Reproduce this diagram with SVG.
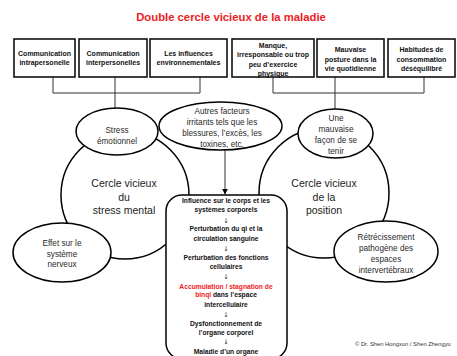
<svg xmlns="http://www.w3.org/2000/svg" width="457" height="356" viewBox="0 0 457 356">
<defs>
<marker id="arr" viewBox="0 0 10 10" refX="9" refY="5" markerWidth="6" markerHeight="6" orient="auto" markerUnits="userSpaceOnUse">
<path d="M0,0 L10,5 L0,10 z" fill="#000"/>
</marker>
<style>
text{font-family:"Liberation Sans",Arial,sans-serif;text-anchor:middle;fill:#111}
.title{font-size:11.3px;font-weight:bold;fill:#ee1c24}
.box{fill:#fff;stroke:#111;stroke-width:1.6}
.bt{font-size:7px;font-weight:bold}
.ell{fill:#fff;stroke:#000;stroke-width:1.5}
.et{font-size:8.2px;fill:#2a2a2a}
.cyc{fill:none;stroke:#000;stroke-width:1.5}
.ct{font-size:10.5px;fill:#222}
.ln{fill:none;stroke:#333;stroke-width:1}
.mt{font-size:6.7px;font-weight:bold}
.red{fill:#ee1c24}
.ar{font-family:"DejaVu Sans",sans-serif;font-size:6.5px;fill:#111}
.copy{font-size:5.8px;text-anchor:start;fill:#333}
</style>
</defs>
<rect width="457" height="356" fill="#fff"/>
<text class="title" x="231" y="21">Double cercle vicieux de la maladie</text>

<g id="cycle-stress">
<circle class="cyc" cx="125" cy="195" r="64"/>
<text class="ct" x="124" y="187">Cercle vicieux</text>
<text class="ct" x="124" y="200.5">du</text>
<text class="ct" x="124" y="214">stress mental</text>
</g>
<g id="cycle-position">
<circle class="cyc" cx="324" cy="193" r="65"/>
<text class="ct" x="324" y="187">Cercle vicieux</text>
<text class="ct" x="324" y="200.5">de la</text>
<text class="ct" x="324" y="214">position</text>
</g>

<g id="connectors">
<path class="ln" d="M53,77 V93 H200 V77"/>
<path class="ln" d="M115,77 V108"/>
<path class="ln" d="M273,77 V93 H424 V77"/>
<path class="ln" d="M335,77 V109"/>
<path class="ln" d="M225,150 V194" marker-end="url(#arr)"/>
</g>

<g id="box-intrapersonelle">
<rect class="box" x="14" y="39" width="61" height="38"/>
<text class="bt" x="44.5" y="55.5">Communication</text>
<text class="bt" x="44.5" y="65">intrapersonelle</text>
</g>
<g id="box-interpersonelles">
<rect class="box" x="79" y="39" width="68" height="38"/>
<text class="bt" x="113" y="55.5">Communication</text>
<text class="bt" x="113" y="65">interpersonelles</text>
</g>
<g id="box-environnement">
<rect class="box" x="150" y="39" width="77" height="38"/>
<text class="bt" x="188.5" y="55.5">Les influences</text>
<text class="bt" x="188.5" y="65">environnementales</text>
</g>
<g id="box-exercice">
<rect class="box" x="232" y="39" width="82" height="38"/>
<text class="bt" x="273" y="47.5">Manque,</text>
<text class="bt" x="273" y="57">irresponsable ou trop</text>
<text class="bt" x="273" y="66.5">peu d’exercice</text>
<text class="bt" x="273" y="76">physique</text>
</g>
<g id="box-posture">
<rect class="box" x="317" y="39" width="67" height="38"/>
<text class="bt" x="350.5" y="52">Mauvaise</text>
<text class="bt" x="350.5" y="61.5">posture dans la</text>
<text class="bt" x="350.5" y="71">vie quotidienne</text>
</g>
<g id="box-consommation">
<rect class="box" x="388" y="39" width="67" height="38"/>
<text class="bt" x="421.5" y="52">Habitudes de</text>
<text class="bt" x="421.5" y="61.5">consommation</text>
<text class="bt" x="421.5" y="71">déséquilibré</text>
</g>

<g id="ell-stress">
<ellipse class="ell" cx="117" cy="131.5" rx="41" ry="23.5"/>
<text class="et" x="117" y="133">Stress</text>
<text class="et" x="117" y="144">émotionnel</text>
</g>
<g id="ell-autres">
<ellipse class="ell" cx="220.5" cy="126" rx="61.5" ry="24"/>
<text class="et" x="222" y="113.5">Autres facteurs</text>
<text class="et" x="222" y="124.5">irritants tels que les</text>
<text class="et" x="222" y="135.5">blessures, l’excès, les</text>
<text class="et" x="222" y="146.5">toxines, etc.</text>
</g>
<g id="ell-tenir">
<ellipse class="ell" cx="335.5" cy="133.5" rx="37.5" ry="24.5"/>
<text class="et" x="336" y="121">Une</text>
<text class="et" x="336" y="132">mauvaise</text>
<text class="et" x="336" y="143">façon de se</text>
<text class="et" x="336" y="154">tenir</text>
</g>
<g id="ell-nerveux">
<ellipse class="ell" cx="62" cy="252.5" rx="49" ry="29.5"/>
<text class="et" x="62" y="246">Effet sur le</text>
<text class="et" x="62" y="256.5">système</text>
<text class="et" x="62" y="267">nerveux</text>
</g>
<g id="ell-retrecissement">
<ellipse class="ell" cx="386" cy="251.5" rx="52" ry="30.5"/>
<text class="et" x="386" y="240">Rétrécissement</text>
<text class="et" x="386" y="251">pathogène des</text>
<text class="et" x="386" y="262">espaces</text>
<text class="et" x="386" y="273">intervertébraux</text>
</g>

<g id="box-process">
<rect x="166" y="195" width="121" height="164" rx="16" ry="16" fill="#fff" stroke="#000" stroke-width="1.5"/>
<text class="mt" x="226" y="202.5">Influence sur le corps et les</text>
<text class="mt" x="226" y="211.5">systèmes corporels</text>
<text class="ar" x="226" y="223">↓</text>
<text class="mt" x="226" y="230.5">Perturbation du qi et la</text>
<text class="mt" x="226" y="240.5">circulation sanguine</text>
<text class="ar" x="226" y="250.5">↓</text>
<text class="mt" x="226" y="259.5">Perturbation des fonctions</text>
<text class="mt" x="226" y="268.5">cellulaires</text>
<text class="ar" x="226" y="278.5">↓</text>
<text class="mt red" x="226" y="288.5">Accumulation / stagnation de</text>
<text class="mt" x="226" y="296.5"><tspan class="red">binqi</tspan> dans l’espace</text>
<text class="mt" x="226" y="306.5">intercellulaire</text>
<text class="ar" x="226" y="316.5">↓</text>
<text class="mt" x="226" y="325.5">Dysfonctionnement de</text>
<text class="mt" x="226" y="334.5">l’organe corporel</text>
<text class="ar" x="226" y="343.5">↓</text>
<text class="mt" x="226" y="353.5">Maladie d’un organe</text>
</g>

<text class="copy" x="355" y="345.5">© Dr. Shen Hongxun / Shen Zhengyu</text>
</svg>
